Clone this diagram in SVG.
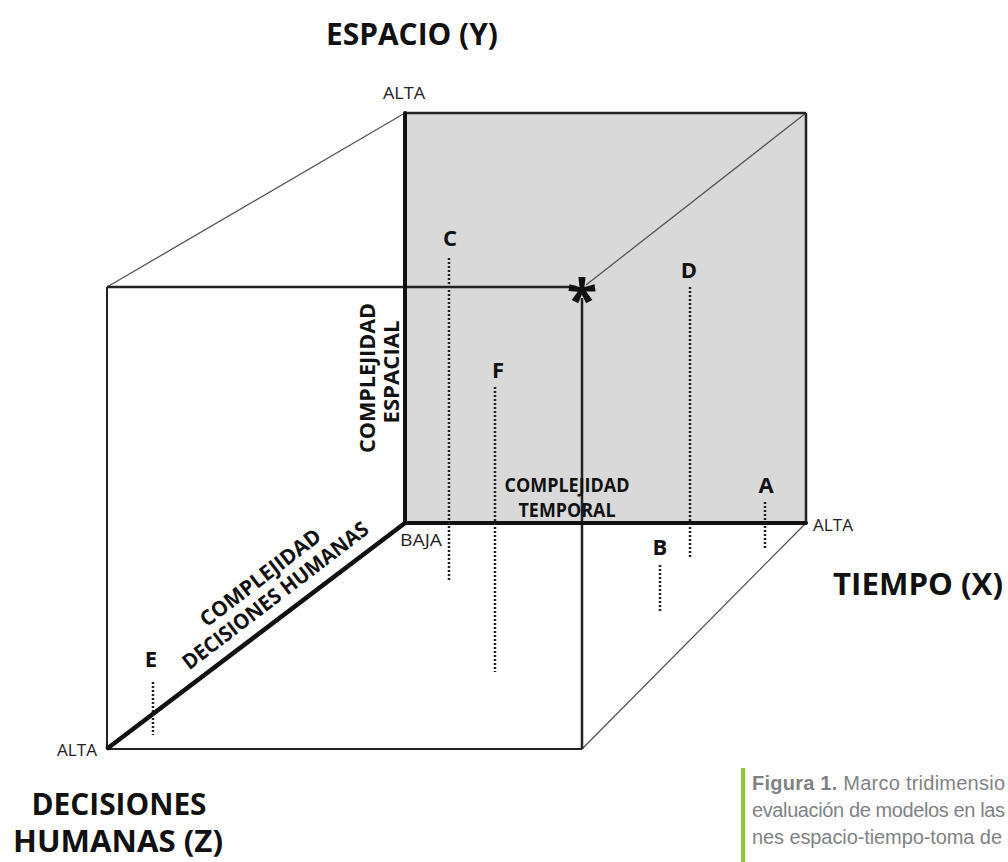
<svg xmlns="http://www.w3.org/2000/svg" width="1008" height="862" viewBox="0 0 1008 862">
<style>
.t{font-family:"Open Sans","Liberation Sans",sans-serif;font-weight:bold;fill:#111}
.s{font-family:"Open Sans","Liberation Sans",sans-serif;font-weight:normal;fill:#222;font-size:16px}
.lbl{font-family:"Open Sans","Liberation Sans",sans-serif;font-weight:bold;fill:#111;font-size:22px;text-anchor:middle}
.thick{stroke:#111;stroke-width:4.5;fill:none;stroke-linecap:round}
.med{stroke:#222;stroke-width:2.5;fill:none}
.thin{stroke:#555;stroke-width:1.3;fill:none}
.dot{stroke:#222;stroke-width:2.5;stroke-dasharray:2 2;fill:none}
.cap{font-family:"Liberation Sans",Arial,sans-serif;font-size:20px;fill:#808285}
</style>
<rect width="1008" height="862" fill="#fff"/>
<g id="back-face">
<rect x="405" y="113" width="401" height="410" fill="#d9d9d9"/>
</g>
<g id="connectors">
<line class="thin" x1="405" y1="113" x2="107" y2="287"/>
<line class="thin" x1="806" y1="113" x2="586" y2="285"/>
<line class="thin" x1="806" y1="523" x2="582" y2="749"/>
<line class="med" x1="405" y1="113" x2="806" y2="113"/>
<line class="med" x1="806" y1="113" x2="806" y2="523"/>
<line class="med" x1="107" y1="287" x2="576" y2="287"/>
<line class="med" style="stroke-width:2" x1="107" y1="287" x2="107" y2="749"/>
<line class="med" style="stroke-width:2" x1="107" y1="749" x2="582" y2="749"/>
<line class="med" x1="582" y1="298" x2="582" y2="749"/>
<line class="thick" style="stroke-width:4" x1="405" y1="113" x2="405" y2="523"/>
<line class="thick" style="stroke-width:4" x1="405" y1="523" x2="806" y2="523"/>
<line class="thick" x1="405" y1="523" x2="108" y2="748"/>
<line class="dot" x1="449" y1="258" x2="449" y2="580"/>
<line class="dot" x1="690" y1="287" x2="690" y2="557"/>
<line class="dot" x1="495" y1="387" x2="495" y2="672"/>
<line class="dot" x1="765" y1="502" x2="765" y2="548"/>
<line class="dot" x1="660" y1="565" x2="660" y2="612"/>
<line class="dot" x1="153" y1="682" x2="153" y2="735"/>
</g>
<g id="star"><text class="t" x="582" y="319" font-size="56" text-anchor="middle">*</text></g>
<g id="point-A"><text class="lbl" x="766" y="493">A</text></g>
<g id="point-B"><text class="lbl" x="660" y="555">B</text></g>
<g id="point-C"><text class="lbl" x="450" y="246">C</text></g>
<g id="point-D"><text class="lbl" x="689" y="278">D</text></g>
<g id="point-E"><text class="lbl" x="151" y="667">E</text></g>
<g id="point-F"><text class="lbl" x="498" y="378">F</text></g>
<g id="axis-y">
<text class="t" x="412" y="45" font-size="30" text-anchor="middle" textLength="172" lengthAdjust="spacingAndGlyphs">ESPACIO (Y)</text>
<text class="s" x="404" y="99" text-anchor="middle" textLength="42" lengthAdjust="spacingAndGlyphs">ALTA</text>
<text class="t" transform="translate(375,378) rotate(-90)" font-size="22" text-anchor="middle" textLength="150" lengthAdjust="spacingAndGlyphs">COMPLEJIDAD</text>
<text class="t" transform="translate(399,372) rotate(-90)" font-size="22" text-anchor="middle" textLength="103" lengthAdjust="spacingAndGlyphs">ESPACIAL</text>
</g>
<g id="axis-x">
<text class="t" x="918" y="595" font-size="30" text-anchor="middle" textLength="170" lengthAdjust="spacingAndGlyphs">TIEMPO (X)</text>
<text class="s" x="813" y="531" textLength="40" lengthAdjust="spacingAndGlyphs">ALTA</text>
<text class="s" x="421" y="546" text-anchor="middle" textLength="42" lengthAdjust="spacingAndGlyphs">BAJA</text>
<text class="t" x="567" y="492" font-size="19" text-anchor="middle" textLength="125" lengthAdjust="spacingAndGlyphs">COMPLEJIDAD</text>
<text class="t" x="567" y="517" font-size="19" text-anchor="middle" textLength="97" lengthAdjust="spacingAndGlyphs">TEMPORAL</text>
</g>
<g id="axis-z">
<text class="t" x="119" y="815" font-size="30" text-anchor="middle" textLength="175" lengthAdjust="spacingAndGlyphs">DECISIONES</text>
<text class="t" x="118" y="852" font-size="30" text-anchor="middle" textLength="210" lengthAdjust="spacingAndGlyphs">HUMANAS (Z)</text>
<text class="s" x="77" y="756" text-anchor="middle" textLength="40" lengthAdjust="spacingAndGlyphs">ALTA</text>
<text class="t" transform="translate(260,577) rotate(-37.4)" y="8" font-size="21" text-anchor="middle" textLength="146" lengthAdjust="spacingAndGlyphs">COMPLEJIDAD</text>
<text class="t" transform="translate(275,595) rotate(-37.4)" y="8" font-size="21" text-anchor="middle" textLength="228" lengthAdjust="spacingAndGlyphs">DECISIONES HUMANAS</text>
</g>
<g id="caption">
<rect x="741" y="768" width="4" height="94" fill="#8cc63e"/>
<text class="cap" x="752" y="790" textLength="253" lengthAdjust="spacing"><tspan font-weight="bold">Figura 1.</tspan> Marco tridimensio</text>
<text class="cap" x="752" y="817" textLength="253" lengthAdjust="spacing">evaluación de modelos en las</text>
<text class="cap" x="752" y="844" textLength="250" lengthAdjust="spacing">nes espacio-tiempo-toma de</text>
</g>
</svg>
